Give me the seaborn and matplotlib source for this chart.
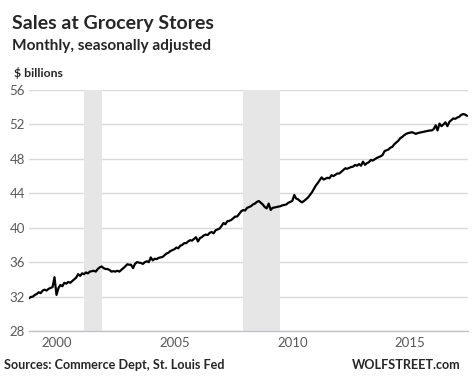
import matplotlib
matplotlib.use("Agg")
import matplotlib.pyplot as plt
import matplotlib.dates as mdates
import seaborn as sns
import pandas as pd

# monthly sales at grocery stores, $ billions, seasonally adjusted (Nov 1998 - Jun 2017)
start_month = "1998-11-01"
sales = [
    31.8, 31.95,
    32.0, 32.2, 32.3, 32.5, 32.4, 32.7, 32.8, 32.7, 32.9, 33.0, 33.1, 34.25,  # 1999
    32.2, 33.0, 33.35, 33.2, 33.6, 33.5, 33.7, 33.6, 33.8, 34.0, 34.2, 34.6,  # 2000
    34.4, 34.7, 34.6, 34.8, 34.7, 34.9, 34.95, 35.0, 34.9, 35.2, 35.4, 35.5,  # 2001
    35.3, 35.2, 35.2, 35.1, 34.9, 34.95, 34.9, 35.0, 34.9, 35.1, 35.3, 35.5,  # 2002
    35.75, 35.7, 35.7, 35.3, 35.8, 36.0, 35.95, 35.9, 35.8, 36.0, 36.1, 36.0,  # 2003
    36.55, 36.2, 36.4, 36.35, 36.5, 36.55, 36.6, 36.8, 37.0, 37.1, 37.3, 37.4,  # 2004
    37.5, 37.7, 37.6, 37.9, 38.0, 38.2, 38.2, 38.4, 38.55, 38.5, 38.7, 38.9,  # 2005
    38.4, 38.8, 38.9, 39.1, 39.2, 39.15, 39.4, 39.5, 39.35, 39.7, 39.8, 39.9,  # 2006
    40.2, 40.55, 40.4, 40.75, 40.8, 40.9, 41.1, 41.3, 41.3, 41.6, 41.9, 42.05,  # 2007
    42.0, 42.3, 42.4, 42.5, 42.7, 42.8, 43.0, 43.1, 42.9, 42.7, 42.4, 42.25,  # 2008
    42.8, 42.06, 42.3, 42.35, 42.4, 42.45, 42.5, 42.6, 42.65, 42.7, 42.9, 43.0,  # 2009
    43.1, 43.8, 43.4, 43.3, 43.1, 42.95, 43.1, 43.3, 43.5, 43.8, 44.1, 44.5,  # 2010
    44.9, 45.2, 45.5, 45.85, 45.6, 45.7, 45.8, 45.75, 46.1, 46.0, 46.15, 46.3,  # 2011
    46.3, 46.5, 46.7, 46.9, 46.85, 46.95, 47.05, 47.1, 47.3, 47.2, 47.4, 47.2,  # 2012
    47.67, 47.3, 47.5, 47.6, 47.87, 47.8, 47.95, 48.1, 48.2, 48.3, 48.45, 48.9,  # 2013
    49.0, 49.1, 49.3, 49.4, 49.7, 49.9, 50.1, 50.4, 50.55, 50.75, 50.9, 51.0,  # 2014
    51.04, 51.1, 51.0, 50.9, 51.0, 51.05, 51.1, 51.15, 51.2, 51.25, 51.3, 51.3,  # 2015
    51.45, 51.9, 51.3, 52.1, 51.8, 52.0, 52.25, 51.8, 52.3, 52.5, 52.7, 52.65,  # 2016
    52.8, 52.9, 53.1, 53.2, 53.15, 53.0,  # 2017
]

recession_start = ["2001-03-01", "2007-12-01"]
recession_end = ["2001-11-30", "2009-06-30"]

y_ticks = [28, 32, 36, 40, 44, 48, 52, 56]
x_tick_years = [2000, 2005, 2010, 2015]

df = pd.DataFrame({
    "month": pd.date_range(start_month, periods=len(sales), freq="MS"),
    "sales": sales,
})

sns.set_style("white")
plt.rcParams["font.family"] = ["Lato", "DejaVu Sans"]

fig = plt.figure(figsize=(4.73, 3.82), dpi=100)
ax = fig.add_axes([29 / 473, 1 - 331 / 382, 439 / 473, 241 / 382])

for s, e in zip(recession_start, recession_end):
    ax.axvspan(pd.Timestamp(s), pd.Timestamp(e), color="#e6e6e6", lw=0, zorder=1)

sns.lineplot(data=df, x="month", y="sales", color="black", linewidth=1.6, ax=ax, zorder=3)

ax.set_ylim(28, 56)
ax.set_yticks(y_ticks)
ax.set_xlim(df["month"].iloc[0], df["month"].iloc[-1] + pd.Timedelta(days=15))
ax.set_xticks([pd.Timestamp(f"{y}-01-01") for y in x_tick_years])
ax.xaxis.set_major_formatter(mdates.DateFormatter("%Y"))

ax.grid(axis="y", color="#d9d9d9", linewidth=1, zorder=0)
ax.set_axisbelow(True)
for side in ["top", "right", "left"]:
    ax.spines[side].set_visible(False)
ax.spines["bottom"].set_color("#b9c3d8")
ax.spines["bottom"].set_linewidth(1)
ax.tick_params(axis="x", direction="inout", length=5, color="#b9c3d8",
               labelsize=9.5, labelcolor="#595959", pad=2)
ax.tick_params(axis="y", length=0, labelsize=9.5, labelcolor="#595959", pad=3)
ax.set_xlabel("")
ax.set_ylabel("")

fig.text(12 / 473, 1 - 29 / 382, "Sales at Grocery Stores", fontsize=14,
         fontweight="bold", ha="left", va="baseline")
fig.text(12 / 473, 1 - 50 / 382, "Monthly, seasonally adjusted", fontsize=11.1,
         fontweight="bold", ha="left", va="baseline")
fig.text(14 / 473, 1 - 77 / 382, "$ billions", fontsize=8.8,
         fontweight="bold", ha="left", va="baseline")
fig.text(4 / 473, 1 - 369 / 382, "Sources: Commerce Dept, St. Louis Fed", fontsize=9.1,
         fontweight="bold", ha="left", va="baseline")
fig.text(461 / 473, 1 - 369 / 382, "WOLFSTREET.com", fontsize=9.1,
         fontweight="bold", ha="right", va="baseline")

fig.savefig("out.png", dpi=100, facecolor="white")
